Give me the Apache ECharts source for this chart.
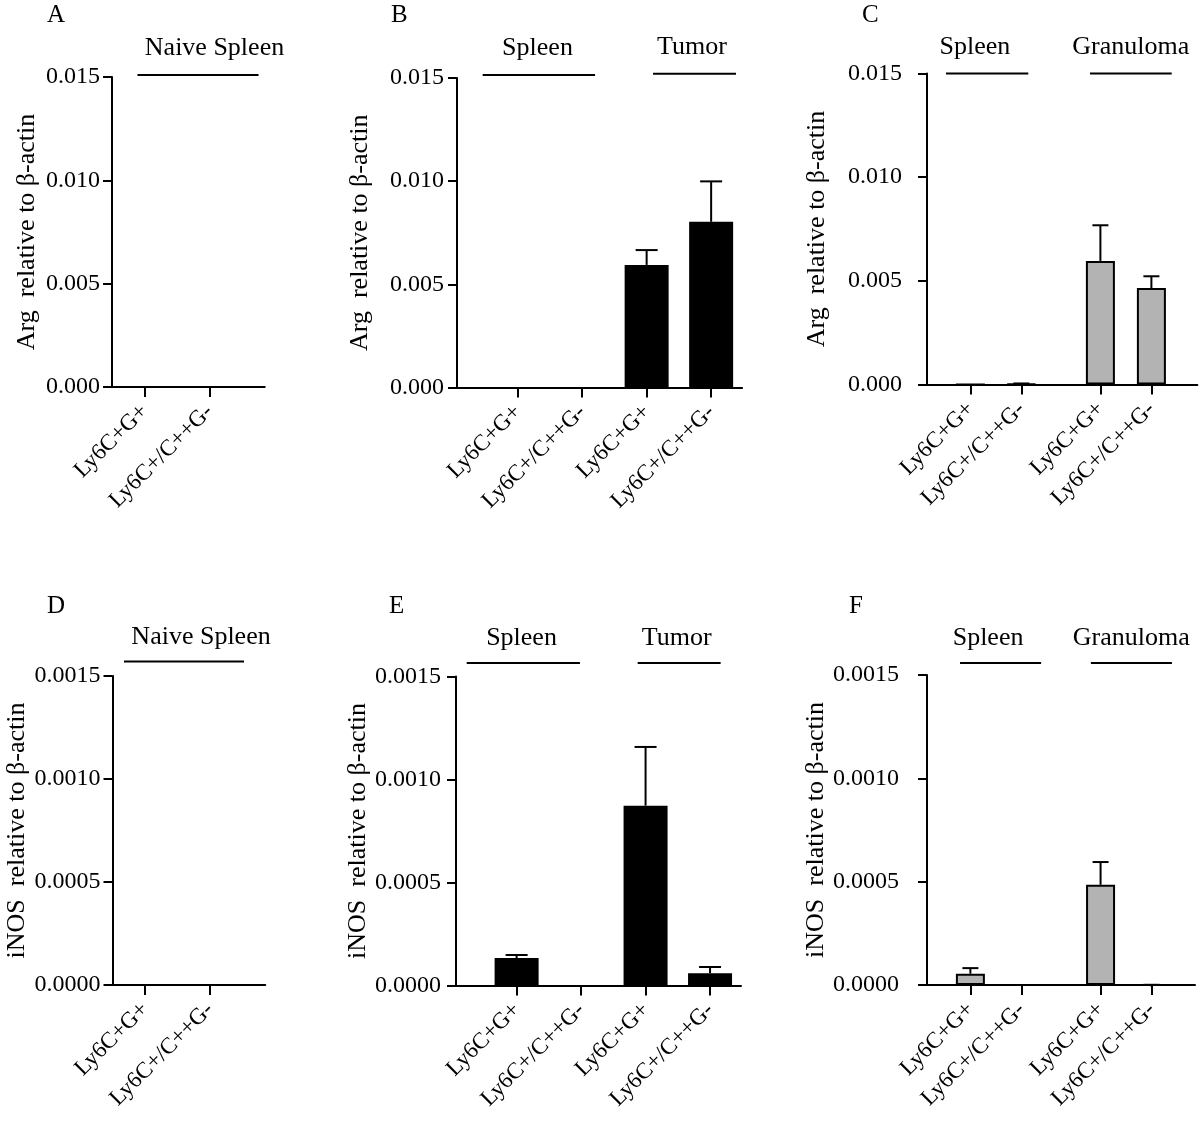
<!DOCTYPE html>
<html><head><meta charset="utf-8">
<script src="https://cdn.jsdelivr.net/npm/echarts@6/dist/echarts.min.js"></script>
<style>html,body{margin:0;padding:0;background:#fff}#c{width:1200px;height:1128px}</style>
</head><body><div id="c"></div><script>
// ---------- data ----------
const cats2 = ['Ly6C+G+', 'Ly6C+/C++G-'];
const cats4 = ['Ly6C+G+', 'Ly6C+/C++G-', 'Ly6C+G+', 'Ly6C+/C++G-'];
const argTicks = [0, 0.005, 0.010, 0.015];
const inosTicks = [0, 0.0005, 0.0010, 0.0015];

const argA = [0, 0];
const argB = [0, 0, 0.00594, 0.00803];
const argBErr = [0, 0, 0.00072, 0.00196];
const argC = [0, 0.00003, 0.00596, 0.00465];
const argCErr = [0, 0.00002, 0.00172, 0.00057];

const inosD = [0, 0];
const inosE = [0.000133, 0, 0.000873, 0.0000597];
const inosEErr = [0.000015, 0, 0.000285, 0.00003];
const inosF = [0.0000547, 0, 0.000485, -0.000009];
const inosFErr = [0.000027, 0, 0.00011, 0.00001];

const groupsA = ['Naive Spleen'];
const groupsB = ['Spleen', 'Tumor'];
const groupsC = ['Spleen', 'Granuloma'];

const argName = 'Arg  relative to \u03b2-actin';
const inosName = 'iNOS  relative to \u03b2-actin';

// ---------- layout ----------
const FONT = '"Liberation Serif", "DejaVu Serif", serif';
const posA = [1, 2];
const posB = [1, 2, 3, 4];
const posC = [1, 2, 3.55, 4.55];

const panels = [
  { letter: 'A', lx: 47, ly: 3, grid: { left: 112, top: 77, width: 152.75, height: 310 }, xMin: 0.5, xMax: 2.85,
    pos: posA, cats: cats2, vals: argA, err: null, color: '#000', border: 0, barW: 44, cap: 22,
    ticks: argTicks, dec: 3, name: argName, nameGap: 72, labMargin: 12,
    groups: groupsA, gx: [[0.892, 2.754]], gt: [2.077], gy: [0.0151], gd: 13 },
  { letter: 'B', lx: 391, ly: 3, grid: { left: 457, top: 78, width: 285.1, height: 309.5 }, xMin: 0.06, xMax: 4.48,
    pos: posB, cats: cats4, vals: argB, err: argBErr, color: '#000', border: 0, barW: 44, cap: 22,
    ticks: argTicks, dec: 3, name: argName, nameGap: 84, labMargin: 13,
    groups: groupsB, gx: [[0.458, 2.20], [3.099, 4.386]], gt: [1.308, 3.703], gy: [0.01515, 0.0152], gd: 13 },
  { letter: 'C', lx: 862, ly: 3, grid: { left: 927, top: 73.5, width: 270.3, height: 311 }, xMin: 0.15, xMax: 5.45,
    pos: posC, cats: cats4, vals: argC, err: argCErr, color: '#b3b3b3', border: 2, barW: 29, cap: 16,
    ticks: argTicks, dec: 3, name: argName, nameGap: 97, labMargin: 25,
    groups: groupsC, gx: [[0.523, 2.136], [3.346, 4.948]], gt: [1.091, 4.146], gy: [0.015, 0.015], gd: 13 },
  { letter: 'D', lx: 47, ly: 594, grid: { left: 112.5, top: 676, width: 152.75, height: 309 }, xMin: 0.5, xMax: 2.85,
    pos: posA, cats: cats2, vals: inosD, err: null, color: '#000', border: 0, barW: 44, cap: 22,
    ticks: inosTicks, dec: 4, name: inosName, nameGap: 80, labMargin: 12,
    groups: groupsA, gx: [[0.677, 2.523]], gt: [1.862], gy: [0.00157], gd: 11 },
  { letter: 'E', lx: 389, ly: 594, grid: { left: 456, top: 676.5, width: 285, height: 309 }, xMin: 0.06, xMax: 4.48,
    pos: posB, cats: cats4, vals: inosE, err: inosEErr, color: '#000', border: 0, barW: 44, cap: 22,
    ticks: inosTicks, dec: 4, name: inosName, nameGap: 83, labMargin: 15,
    groups: groupsB, gx: [[0.226, 1.982], [2.877, 4.164]], gt: [1.076, 3.482], gy: [0.001566, 0.001566], gd: 11 },
  { letter: 'F', lx: 849, ly: 594, grid: { left: 927, top: 675, width: 268, height: 310 }, xMin: 0.15, xMax: 5.40,
    pos: posC, cats: cats4, vals: inosF, err: inosFErr, color: '#b3b3b3', border: 2, barW: 29, cap: 16,
    ticks: inosTicks, dec: 4, name: inosName, nameGap: 97, labMargin: 28,
    groups: groupsC, gx: [[0.797, 2.385], [3.36, 4.948]], gt: [1.346, 4.15], gy: [0.001558, 0.001558], gd: 11 }
];

const option = { backgroundColor: '#fff', animation: false, title: [], grid: [], xAxis: [], yAxis: [], series: [] };

panels.forEach((p, i) => {
  option.title.push({ text: p.letter, left: p.lx, top: p.ly, padding: 0,
    textStyle: { fontFamily: FONT, fontSize: 25, fontWeight: 'normal', color: '#000' } });
  option.grid.push(Object.assign({ containLabel: false }, p.grid));
  option.xAxis.push({
    gridIndex: i, type: 'value', min: p.xMin, max: p.xMax,
    splitLine: { show: false },
    axisLine: { show: true, onZero: true, lineStyle: { color: '#000', width: 2 } },
    axisTick: { show: true, customValues: p.pos, length: 10, lineStyle: { color: '#000', width: 2 } },
    axisLabel: {
      show: true, customValues: p.pos, rotate: 45, margin: 21,
      fontFamily: FONT, fontSize: 23, color: '#000',
      formatter: (v) => { const k = p.pos.findIndex(q => Math.abs(q - v) < 1e-6); return k >= 0 ? p.cats[k] : ''; }
    }
  });
  option.yAxis.push({
    gridIndex: i, type: 'value', min: p.ticks[0], max: p.ticks[p.ticks.length - 1],
    interval: p.ticks[1] - p.ticks[0],
    splitLine: { show: false },
    axisLine: { show: true, lineStyle: { color: '#000', width: 2 } },
    axisTick: { show: true, length: 9, lineStyle: { color: '#000', width: 2 } },
    axisLabel: { margin: p.labMargin, fontFamily: FONT, fontSize: 24, color: '#000',
      formatter: (v) => v.toFixed(p.dec) },
    name: p.name, nameLocation: 'middle', nameRotate: 90, nameGap: p.nameGap,
    nameTextStyle: { fontFamily: FONT, fontSize: 26, color: '#000' }
  });
  // bars
  option.series.push({
    type: 'bar', xAxisIndex: i, yAxisIndex: i, barWidth: p.barW,
    data: p.pos.map((x, j) => [x, p.vals[j]]),
    itemStyle: { color: p.color, borderColor: '#000', borderWidth: p.border },
    silent: true, z: 2
  });
  // error bars
  if (p.err) {
    const cap = p.cap;
    option.series.push({
      type: 'custom', xAxisIndex: i, yAxisIndex: i, silent: true, z: 3,
      data: p.pos.map((x, j) => [x, p.vals[j], p.vals[j] + p.err[j]]).filter((d, j) => p.err[j] > 0),
      encode: { x: 0, y: [1, 2] },
      renderItem: (params, api) => {
        const a = api.coord([api.value(0), api.value(1)]);
        const b = api.coord([api.value(0), api.value(2)]);
        const hw = cap / 2;
        return { type: 'group', children: [
          { type: 'line', shape: { x1: a[0], y1: a[1], x2: b[0], y2: b[1] }, style: { stroke: '#000', lineWidth: 2 } },
          { type: 'line', shape: { x1: b[0] - hw, y1: b[1], x2: b[0] + hw, y2: b[1] }, style: { stroke: '#000', lineWidth: 2 } }
        ] };
      }
    });
  }
  // group brackets and labels
  p.groups.forEach((g, k) => {
    option.series.push({
      type: 'line', xAxisIndex: i, yAxisIndex: i, clip: false, silent: true, symbol: 'none',
      data: [[p.gx[k][0], p.gy[k]], [p.gx[k][1], p.gy[k]]],
      lineStyle: { color: '#000', width: 2 }, z: 4
    });
    option.series.push({
      type: 'scatter', xAxisIndex: i, yAxisIndex: i, clip: false, silent: true,
      symbolSize: 1, itemStyle: { color: 'rgba(255,255,255,0)', opacity: 1 },
      data: [[p.gt[k], p.gy[k]]],
      label: { show: true, position: 'top', distance: p.gd, formatter: g, opacity: 1,
        fontFamily: FONT, fontSize: 26, color: '#000' }, z: 4
    });
  });
});

const chart = echarts.init(document.getElementById('c'), null, { renderer: 'canvas' });
chart.setOption(option);
</script></body></html>
